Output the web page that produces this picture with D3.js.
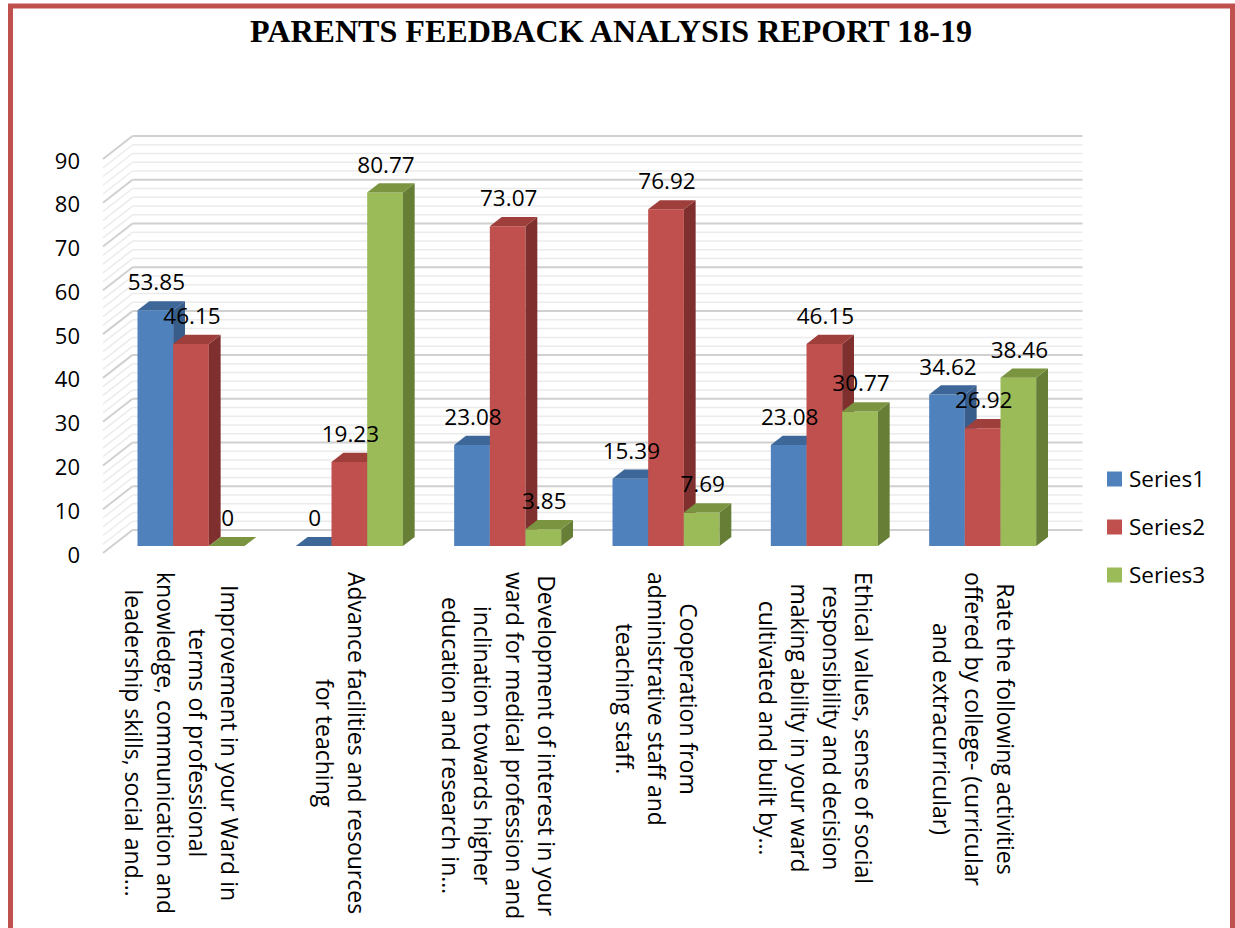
<!DOCTYPE html>
<html>
<head>
<meta charset="utf-8">
<script src="https://cdn.jsdelivr.net/npm/d3@7"></script>
<style>
  html, body { margin: 0; padding: 0; background: #fff; }
  svg { display: block; }
</style>
</head>
<body>
<svg id="chart" width="1235" height="928"></svg>
<script>
// Survey questions (category axis), one label line per entry
const categories = [
  ["Improvement in your Ward in", "terms of professional", "knowledge, communication and", "leadership skills, social and…"],
  ["Advance facilities and resources", "for teaching"],
  ["Development of interest in your", "ward for medical profession and", "inclination towards higher", "education and research in…"],
  ["Cooperation from", "administrative staff and", "teaching staff."],
  ["Ethical values, sense of social", "responsibility and decision", "making ability in your ward", "cultivated and built by…"],
  ["Rate the following activities", "offered by college- (curricular", "and extracurricular)"]
];
const seriesNames = ["Series1", "Series2", "Series3"];
const series1 = [53.85, 0, 23.08, 15.39, 23.08, 34.62];
const series2 = [46.15, 19.23, 73.07, 76.92, 46.15, 26.92];
const series3 = [0, 80.77, 3.85, 7.69, 30.77, 38.46];
const yTicks = [0, 10, 20, 30, 40, 50, 60, 70, 80, 90];
const title = "PARENTS FEEDBACK ANALYSIS REPORT 18-19";

const allSeries = [series1, series2, series3];
const colors = [
  { front: "#4F81BD", top: "#3D6799", side: "#385D8A" },
  { front: "#C0504D", top: "#9E3F3C", side: "#7F302E" },
  { front: "#9BBB59", top: "#7A9440", side: "#677E36" }
];
const font = "'Open Sans', sans-serif";

const svg = d3.select("#chart");

// Outer frame
svg.append("rect")
  .attr("x", 10.5).attr("y", 6).attr("width", 1222).attr("height", 960)
  .attr("fill", "none").attr("stroke", "#C0504D").attr("stroke-width", 5);

// Title
svg.append("text")
  .attr("x", 250).attr("y", 42)
  .attr("font-family", "'Liberation Serif', 'Times New Roman', serif")
  .attr("font-weight", "bold").attr("font-size", 32)
  .attr("textLength", 722).attr("lengthAdjust", "spacingAndGlyphs")
  .attr("fill", "#000")
  .text(title);

// 3D projection: front plane plus a depth vector
const frontLeft = 103, frontRight = 1053;
const depthX = 29.5, depthY = -23;
const y = d3.scaleLinear().domain([0, 90]).range([553, 159]);
const x = d3.scaleBand().domain(d3.range(categories.length))
  .range([frontLeft, frontRight]).paddingInner(0.324).paddingOuter(0.162);
const xs = d3.scaleBand().domain(d3.range(seriesNames.length)).range([0, x.bandwidth()]);
const barZ0 = 0.3, barZ1 = 0.7;

const pt = (px, py, z) => [px + depthX * z, py + depthY * z];

// Walls with major and minor gridlines
const grid = svg.append("g");
const minorVals = d3.range(0, 91, 2);
minorVals.forEach(v => {
  const major = v % 10 === 0;
  const col = major ? "#D0D0D0" : "#EBEBEB";
  const sw = major ? 2 : 1.5;
  const [bx, by] = pt(frontLeft, y(v), 1);
  grid.append("line")
    .attr("x1", frontLeft).attr("y1", y(v)).attr("x2", bx).attr("y2", by)
    .attr("stroke", col).attr("stroke-width", sw);
  grid.append("line")
    .attr("x1", bx).attr("y1", by).attr("x2", frontRight + depthX).attr("y2", by)
    .attr("stroke", col).attr("stroke-width", sw);
});

// Y axis labels
const yAxis = d3.axisLeft(y).tickValues(yTicks).tickSize(0).tickPadding(0);
const yg = svg.append("g").attr("transform", "translate(80,2)").call(yAxis);
yg.select(".domain").remove();
yg.selectAll("text")
  .attr("font-family", font).attr("font-size", 22).attr("fill", "#000");

// Bars
const bars = svg.append("g");
const path = pts => "M" + pts.map(p => p.join(",")).join("L") + "Z";
categories.forEach((c, i) => {
  allSeries.forEach((s, k) => {
    const v = s[i];
    const x0 = x(i) + xs(k), x1 = x0 + xs.bandwidth();
    const yb = y(0), yt = y(v);
    const col = colors[k];
    const fbl = pt(x0, yb, barZ0), fbr = pt(x1, yb, barZ0);
    const ftl = pt(x0, yt, barZ0), ftr = pt(x1, yt, barZ0);
    const btl = pt(x0, yt, barZ1), btr = pt(x1, yt, barZ1), bbr = pt(x1, yb, barZ1);
    if (v > 0) {
      bars.append("path").attr("d", path([fbl, fbr, ftr, ftl])).attr("fill", col.front);
      bars.append("path").attr("d", path([fbr, bbr, btr, ftr])).attr("fill", col.side);
    }
    bars.append("path").attr("d", path([ftl, ftr, btr, btl])).attr("fill", col.top);
  });
});

// Value labels above each bar
const labels = svg.append("g");
categories.forEach((c, i) => {
  allSeries.forEach((s, k) => {
    const v = s[i];
    const cx = x(i) + xs(k) + xs.bandwidth() / 2 + depthX * barZ0 + 1;
    const ty = y(v) + depthY * barZ0 - 20;
    labels.append("text")
      .attr("x", cx).attr("y", ty)
      .attr("text-anchor", "middle")
      .attr("font-family", font).attr("font-size", 22.5).attr("fill", "#000")
      .text(String(v));
  });
});

// Category labels, rotated to read downwards
const lineGap = 32;
const catG = svg.append("g");
categories.forEach((lines, i) => {
  const cx = x(i) + x.bandwidth() / 2;
  const g = catG.append("g");
  const texts = lines.map(ln => g.append("text")
    .attr("font-family", font).attr("font-size", 23).attr("fill", "#000")
    .attr("text-anchor", "middle")
    .text(ln));
  const maxLen = d3.max(texts, t => t.node().getComputedTextLength());
  const n = lines.length;
  texts.forEach((t, j) => {
    t.attr("x", 0).attr("y", (j - (n - 1) / 2) * lineGap);
  });
  g.attr("transform", `translate(${cx - 9},${572 + maxLen / 2}) rotate(90)`);
});

// Legend
const legend = svg.append("g");
seriesNames.forEach((name, k) => {
  const cy = 479 + k * 48;
  legend.append("rect").attr("x", 1107).attr("y", cy - 7.5).attr("width", 15).attr("height", 15)
    .attr("fill", colors[k].front);
  legend.append("text").attr("x", 1129).attr("y", cy + 8)
    .attr("font-family", font).attr("font-size", 22.5).attr("fill", "#000")
    .text(name);
});
</script>
</body>
</html>
